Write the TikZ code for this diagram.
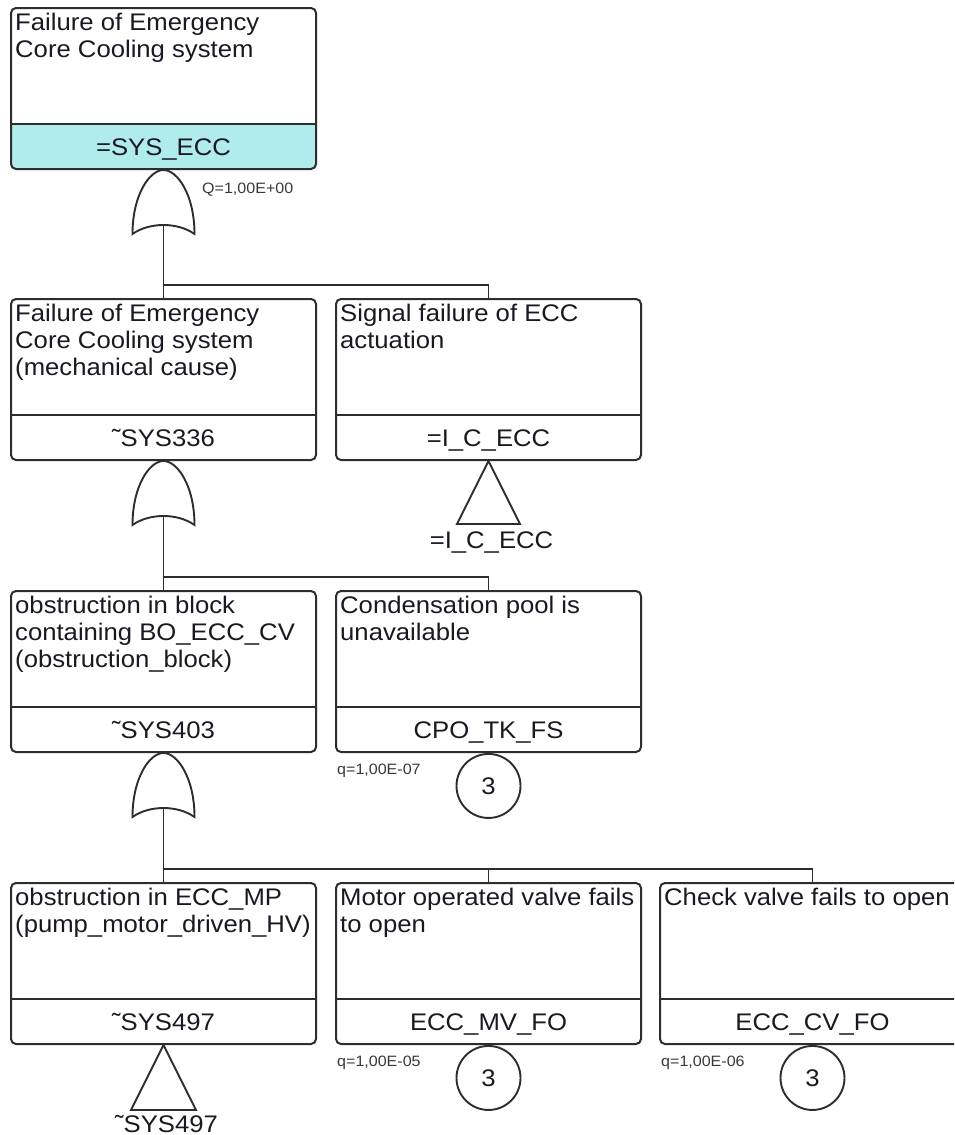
\documentclass[tikz,border=0pt]{standalone}
\usepackage{fontspec}
\setmainfont{Liberation Sans}[FakeStretch=1.07]
\definecolor{cyanfill}{RGB}{176,236,236}
\definecolor{linec}{RGB}{45,45,45}
\definecolor{txtc}{RGB}{25,25,35}
\definecolor{smc}{RGB}{60,55,55}
\newcommand\evfont{\fontsize{24}{27}\selectfont}
\newcommand\smfont{\fontsize{15}{17}\selectfont}
\newcommand\tld{\symbol{"02DC}}
\begin{document}
\begin{tikzpicture}[x=1pt,y=-1pt,
  lc/.style={line width=1.9pt, draw=linec},
  divl/.style={line width=1.8pt, draw=linec, sharp corners},
  evbox/.style={draw=linec, line width=2pt, rounded corners=5pt,
    minimum width=305pt, minimum height=161pt, inner sep=0pt, anchor=north west,
    path picture={\draw[divl] ([yshift=-116pt]path picture bounding box.north west) -- ([yshift=-116pt]path picture bounding box.north east);}},
  topbox/.style={evbox,
    path picture={\fill[cyanfill, sharp corners] (path picture bounding box.south west) rectangle ([yshift=-116pt]path picture bounding box.north east);
      \draw[divl] ([yshift=-116pt]path picture bounding box.north west) -- ([yshift=-116pt]path picture bounding box.north east);}},
  ttl/.style={anchor=north west, align=left, inner sep=0pt, font=\evfont, text=txtc},
  idl/.style={anchor=base, inner sep=0pt, font=\evfont, text=txtc},
  sm/.style={anchor=base west, inner sep=0pt, font=\smfont, text=smc},
  circ/.style={circle, draw=linec, line width=1.9pt, minimum size=64pt, inner sep=0pt, font=\evfont, text=txtc, anchor=north},
  orgate/.pic={
    \draw[lc] (-31,64) .. controls (-31,25) and (-14,0) .. (0,0) .. controls (14,0) and (31,25) .. (31,64) .. controls (14,52) and (-14,52) .. cycle;
    \coordinate (-out) at (0,55);
  }]
\useasboundingbox (0,0) rectangle (954,1135);
\clip (0,0) rectangle (954,1135);

% row 1
\node[topbox] (b1) at (10,7) {};
\node[ttl] (b1t) at ([shift={(5pt,-5.5pt)}]b1.north west) {Failure of Emergency\\Core Cooling system};
\node[idl] (b1i) at ([yshift=15pt]b1.south) {=SYS\_ECC};
\pic (g1) at (b1.south) {orgate};
\node[sm] (q1) at ([shift={(192pt,-23pt)}]b1.south west) {Q=1,00E+00};

% row 2
\node[evbox] (b2a) at (10,298) {};
\node[ttl] (b2at) at ([shift={(5pt,-5.5pt)}]b2a.north west) {Failure of Emergency\\Core Cooling system\\(mechanical cause)};
\node[idl] (b2ai) at ([yshift=15pt]b2a.south) {\tld SYS336};
\node[evbox] (b2b) at (335,298) {};
\node[ttl] (b2bt) at ([shift={(5pt,-5.5pt)}]b2b.north west) {Signal failure of ECC\\actuation};
\node[idl] (b2bi) at ([yshift=15pt]b2b.south) {=I\_C\_ECC};
\coordinate (j1) at (162.5,285);
\draw[lc] (g1-out) -- (b2a.north);
\draw[lc] (j1) -| (b2b.north);
\draw[lc] (b2b.south) -- ++(-31.5,63) -- ++(63,0) -- cycle;
\node[idl] (tr1) at ([shift={(3pt,-87pt)}]b2b.south) {=I\_C\_ECC};
\pic (g2) at (b2a.south) {orgate};

% row 3
\node[evbox] (b3a) at (10,590) {};
\node[ttl] (b3at) at ([shift={(5pt,-5.5pt)}]b3a.north west) {obstruction in block\\containing BO\_ECC\_CV\\(obstruction\_block)};
\node[idl] (b3ai) at ([yshift=15pt]b3a.south) {\tld SYS403};
\node[evbox] (b3b) at (335,590) {};
\node[ttl] (b3bt) at ([shift={(5pt,-5.5pt)}]b3b.north west) {Condensation pool is\\unavailable};
\node[idl] (b3bi) at ([yshift=15pt]b3b.south) {CPO\_TK\_FS};
\coordinate (j2) at (162.5,577);
\draw[lc] (g2-out) -- (b3a.north);
\draw[lc] (j2) -| (b3b.north);
\node[circ] (c1) at (b3b.south) {3};
\node[sm] (q2) at ([shift={(2pt,-21pt)}]b3b.south west) {q=1,00E-07};
\pic (g3) at (b3a.south) {orgate};

% row 4
\node[evbox] (b4a) at (10,882) {};
\node[ttl] (b4at) at ([shift={(5pt,-5.5pt)}]b4a.north west) {obstruction in ECC\_MP\\(pump\_motor\_driven\_HV)};
\node[idl] (b4ai) at ([yshift=15pt]b4a.south) {\tld SYS497};
\node[evbox] (b4b) at (335,882) {};
\node[ttl] (b4bt) at ([shift={(5pt,-5.5pt)}]b4b.north west) {Motor operated valve fails\\to open};
\node[idl] (b4bi) at ([yshift=15pt]b4b.south) {ECC\_MV\_FO};
\node[evbox] (b4c) at (659,882) {};
\node[ttl] (b4ct) at ([shift={(5pt,-5.5pt)}]b4c.north west) {Check valve fails to open};
\node[idl] (b4ci) at ([yshift=15pt]b4c.south) {ECC\_CV\_FO};
\coordinate (j3) at (162.5,869);
\draw[lc] (g3-out) -- (b4a.north);
\draw[lc] (j3) -| (b4b.north);
\draw[lc] (j3) -| (b4c.north);
\draw[lc] (b4a.south) -- ++(-32.5,65) -- ++(65,0) -- cycle;
\node[idl] (tr2) at ([shift={(3pt,-87pt)}]b4a.south) {\tld SYS497};
\node[circ] (c2) at (b4b.south) {3};
\node[sm] (q3) at ([shift={(2pt,-21pt)}]b4b.south west) {q=1,00E-05};
\node[circ] (c3) at (b4c.south) {3};
\node[sm] (q4) at ([shift={(2pt,-21pt)}]b4c.south west) {q=1,00E-06};
\end{tikzpicture}
\end{document}
